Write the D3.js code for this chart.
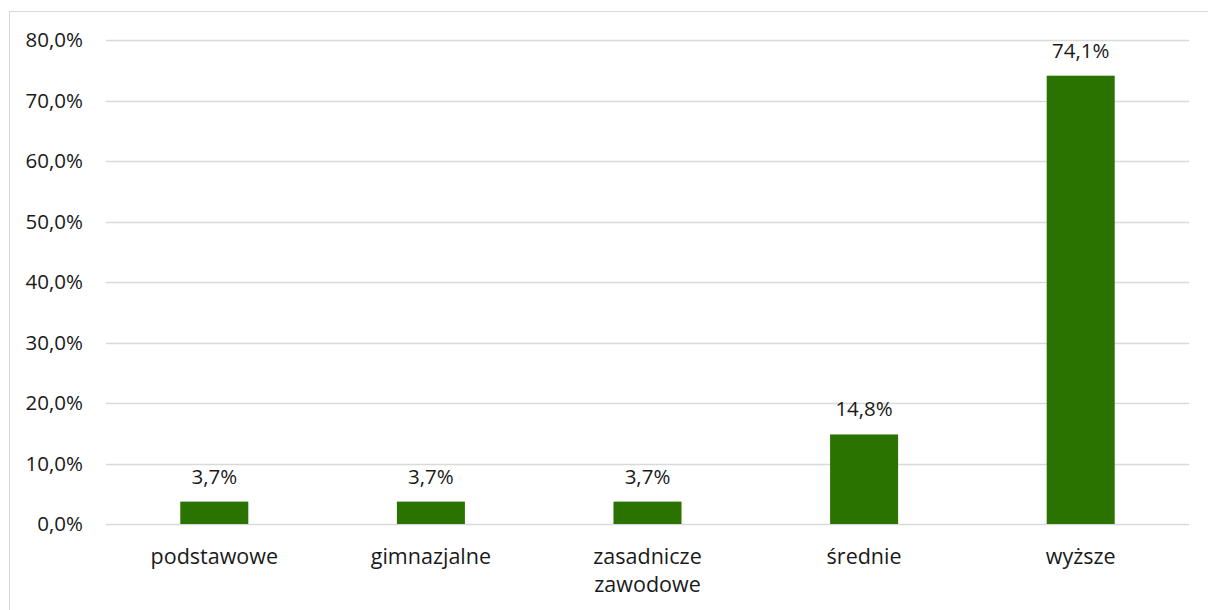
<!DOCTYPE html>
<html>
<head>
<meta charset="utf-8">
<script src="https://cdn.jsdelivr.net/npm/d3@7"></script>
<style>
  body { margin: 0; background: #fff; }
  svg { display: block; font-family: "Open Sans", sans-serif; }
</style>
</head>
<body>
<svg id="chart"></svg>
<script>
// Data
const categories = ["podstawowe", "gimnazjalne", "zasadnicze zawodowe", "średnie", "wyższe"];
const values = [3.7, 3.7, 3.7, 14.8, 74.1];
const yTicks = [0, 10, 20, 30, 40, 50, 60, 70, 80];

const width = 1208, height = 610;
const margin = { top: 40, right: 19, bottom: 86, left: 106 };
const innerW = width - margin.left - margin.right;
const innerH = height - margin.top - margin.bottom;

const fmt = v => d3.format(".1f")(v).replace(".", ",");

let svg = d3.select("svg#chart")
  .attr("width", width)
  .attr("height", height);

// outer chart border
svg.append("rect")
  .attr("x", 9.5).attr("y", 11.5)
  .attr("width", width + 10).attr("height", height + 10)
  .attr("fill", "none")
  .attr("stroke", "#d9d9d9");

let g = svg.append("g")
  .attr("transform", `translate(${margin.left},${margin.top})`);

const xScale = d3.scaleBand().domain(categories).range([0, innerW]).paddingInner(0.686).paddingOuter(0.343);
const yScale = d3.scaleLinear().domain([0, 80]).range([innerH, 0]);

// gridlines
g.append("g")
  .selectAll("line")
  .data(yTicks)
  .join("line")
  .attr("x1", 0).attr("x2", innerW)
  .attr("y1", d => Math.round(yScale(d)) + 0.5)
  .attr("y2", d => Math.round(yScale(d)) + 0.5)
  .attr("stroke", "#d9d9d9")
  .attr("stroke-width", 1.5);

// y axis labels
const yAxis = g.append("g")
  .call(d3.axisLeft(yScale).tickValues(yTicks).tickFormat(d => fmt(d) + "%").tickSize(0).tickPadding(23));
yAxis.select(".domain").remove();
yAxis.selectAll("text")
  .attr("font-size", 20.5)
  .attr("fill", "#1a1a1a")
  .attr("font-family", "Open Sans, sans-serif");

// bars
g.append("g")
  .selectAll("rect")
  .data(values)
  .join("rect")
  .attr("x", (d, i) => xScale(categories[i]))
  .attr("y", d => yScale(d))
  .attr("width", xScale.bandwidth())
  .attr("height", d => innerH - yScale(d))
  .attr("fill", "#2a7300");

// value labels
g.append("g")
  .selectAll("text")
  .data(values)
  .join("text")
  .attr("x", (d, i) => xScale(categories[i]) + xScale.bandwidth() / 2)
  .attr("y", d => yScale(d) - 18)
  .attr("text-anchor", "middle")
  .attr("font-size", 20.5)
  .attr("fill", "#1a1a1a")
  .text(d => fmt(d) + "%");

// category labels (wrap two-word label)
const catG = g.append("g");
categories.forEach(c => {
  const lines = c === "zasadnicze zawodowe" ? ["zasadnicze", "zawodowe"] : [c];
  const t = catG.append("text")
    .attr("x", xScale(c) + xScale.bandwidth() / 2)
    .attr("y", innerH + 40)
    .attr("text-anchor", "middle")
    .attr("font-size", 21.5)
    .attr("fill", "#1a1a1a");
  lines.forEach((l, i) => {
    t.append("tspan")
      .attr("x", xScale(c) + xScale.bandwidth() / 2)
      .attr("dy", i === 0 ? 0 : 28)
      .text(l);
  });
});
</script>
</body>
</html>
